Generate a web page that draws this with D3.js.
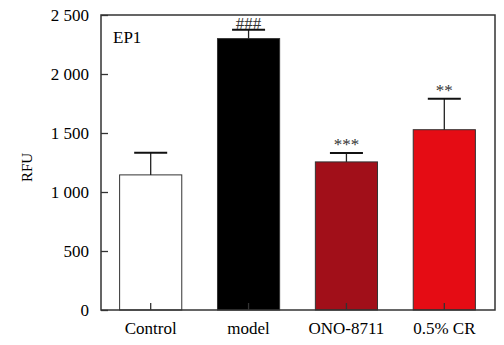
<!DOCTYPE html>
<html>
<head>
<meta charset="utf-8">
<script src="https://cdn.jsdelivr.net/npm/d3@7"></script>
<style>
  body { margin: 0; background: #fff; }
  text { font-family: "Liberation Serif", "Times New Roman", serif; }
</style>
</head>
<body>
<div id="chart"></div>
<script>
// groups and values
var groups = ["Control", "model", "ONO-8711", "0.5% CR"];
var means = [1145, 2300, 1255, 1528];
var errors = [188, 75, 76, 263];
var marks = ["", "###", "***", "**"];
var fills = ["#ffffff", "#000000", "#a10f19", "#e50c14"];
var yTicks = [0, 500, 1000, 1500, 2000, 2500];

var W = 504, H = 345;
var margin = {top: 15, right: 9, bottom: 35, left: 101},
    width = W - margin.left - margin.right,
    height = H - margin.top - margin.bottom;

var svg = d3.select("#chart")
  .append("svg")
    .attr("width", W)
    .attr("height", H)
  .append("g")
    .attr("transform", "translate(" + margin.left + "," + margin.top + ")");

var x = d3.scaleBand()
    .domain(groups)
    .range([1, width - 2])
    .paddingInner(0.365)
    .paddingOuter(0.18);

var y = d3.scaleLinear()
    .domain([0, 2500])
    .range([height, 0]);

// number format with a space as thousands separator
var fmt = function(v) { return d3.format(",")(v).replace(/,/g, " "); };

// bars
svg.selectAll("rect.bar")
  .data(groups)
  .enter().append("rect")
    .attr("class", "bar")
    .attr("x", function(d) { return x(d); })
    .attr("y", function(d, i) { return y(means[i]); })
    .attr("width", x.bandwidth())
    .attr("height", function(d, i) { return y(0) - y(means[i]); })
    .attr("fill", function(d, i) { return fills[i]; })
    .attr("stroke", "#333")
    .attr("stroke-width", 1);

// error bars, upper only
var capW = 33;
var eb = svg.selectAll("g.err")
  .data(groups)
  .enter().append("g")
    .attr("class", "err");
eb.append("line")
    .attr("x1", function(d) { return x(d) + x.bandwidth() / 2; })
    .attr("x2", function(d) { return x(d) + x.bandwidth() / 2; })
    .attr("y1", function(d, i) { return y(means[i]); })
    .attr("y2", function(d, i) { return y(means[i] + errors[i]); })
    .attr("stroke", "#222")
    .attr("stroke-width", 1.3);
eb.append("line")
    .attr("x1", function(d) { return x(d) + x.bandwidth() / 2 - capW / 2; })
    .attr("x2", function(d) { return x(d) + x.bandwidth() / 2 + capW / 2; })
    .attr("y1", function(d, i) { return y(means[i] + errors[i]); })
    .attr("y2", function(d, i) { return y(means[i] + errors[i]); })
    .attr("stroke", "#111")
    .attr("stroke-width", 2);

// significance marks
svg.selectAll("text.mark")
  .data(groups)
  .enter().append("text")
    .attr("class", "mark")
    .attr("x", function(d) { return x(d) + x.bandwidth() / 2; })
    .attr("y", function(d, i) { return y(means[i] + errors[i]) - (i == 1 ? 1 : 3); })
    .attr("text-anchor", "middle")
    .attr("font-size", "17px")
    .attr("fill", "#333")
    .text(function(d, i) { return marks[i]; });

// frame
svg.append("rect")
    .attr("x", 0).attr("y", 0)
    .attr("width", width).attr("height", height)
    .attr("fill", "none")
    .attr("stroke", "#333")
    .attr("stroke-width", 1.5);

// Y axis, ticks inside
var yAxis = svg.append("g")
    .call(d3.axisLeft(y).tickValues(yTicks).tickSize(-7).tickPadding(12).tickFormat(fmt));
yAxis.select(".domain").remove();
yAxis.selectAll(".tick line").attr("stroke", "#333").attr("stroke-width", 1.3);
yAxis.selectAll("text")
    .attr("font-family", "Liberation Serif, serif")
    .attr("font-size", "17px")
    .attr("fill", "#000")
    .attr("dy", "0.32em");

// X axis, ticks inside
var xAxis = svg.append("g")
    .attr("transform", "translate(0," + height + ")")
    .call(d3.axisBottom(x).tickSize(-7).tickPadding(12).tickSizeOuter(0));
xAxis.select(".domain").remove();
xAxis.selectAll(".tick line").attr("stroke", "#333").attr("stroke-width", 1.3);
xAxis.selectAll("text")
    .attr("font-family", "Liberation Serif, serif")
    .attr("font-size", "17px")
    .attr("fill", "#000");

// panel label
svg.append("text")
    .attr("x", 12)
    .attr("y", 28)
    .attr("font-size", "17px")
    .text("EP1");

// y axis title
svg.append("text")
    .attr("transform", "translate(-69," + (height / 2 + 5) + ") rotate(-90)")
    .attr("text-anchor", "middle")
    .attr("font-size", "15px")
    .text("RFU");
</script>
</body>
</html>
